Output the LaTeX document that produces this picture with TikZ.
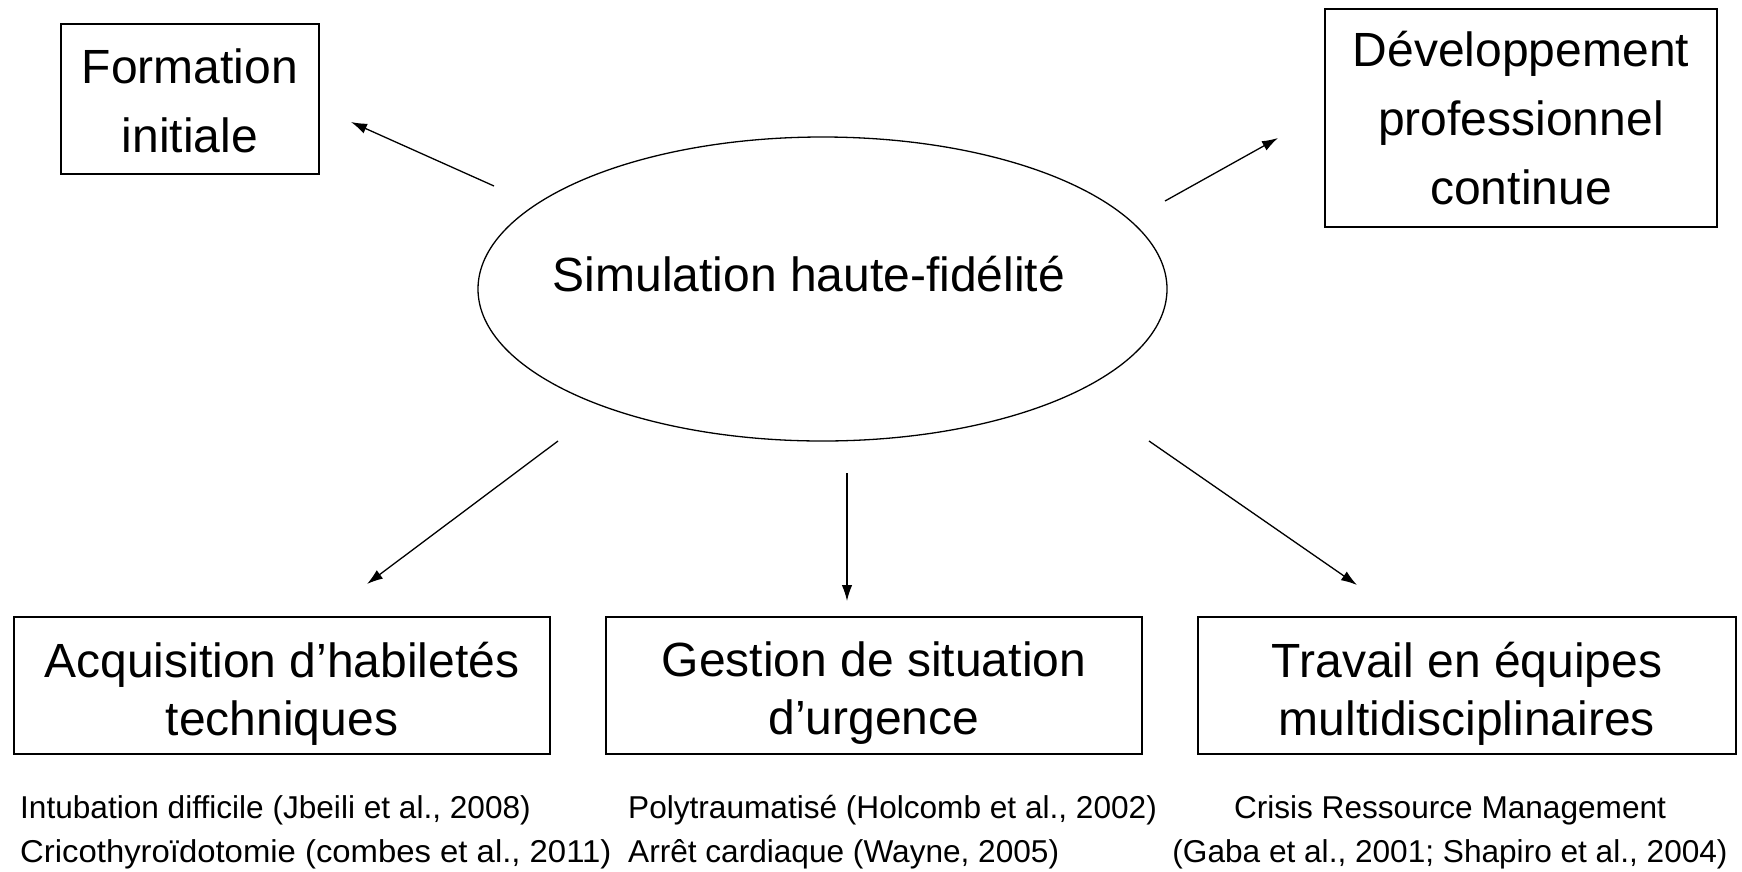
\documentclass[tikz,border=0pt]{standalone}
\usepackage{fontspec}
\setmainfont{Liberation Sans}
\usetikzlibrary{arrows.meta,shapes.geometric}

\begin{document}
\begin{tikzpicture}[x=1pt,y=-1pt,
  box/.style={draw, line width=1.3pt, inner sep=0pt, align=center},
  bigtxt/.style={font=\fontsize{48}{69}\selectfont},
  midtxt/.style={font=\fontsize{48}{58}\selectfont, align=center, inner sep=0pt},
  reftxt/.style={font=\fontsize{31.6}{44}\selectfont, inner sep=0pt},
  arr/.style={-{Latex[length=16pt,width=10.5pt]}, line width=1.3pt}]
\useasboundingbox (0,0) rectangle (1742,871);

% central ellipse and its label
\node[draw, ellipse, line width=1.3pt, minimum width=689pt, minimum height=304pt, inner sep=0pt] (sim) at (822.5,289) {};
\node[font=\fontsize{48}{58}\selectfont, inner sep=0pt] (simtxt) at (809,274) {Simulation haute-fidélité};

% upper boxes
\node[box, bigtxt, minimum width=258pt, minimum height=150pt] (form) at (190,99) {};
\node[bigtxt, align=center, inner sep=0pt] (formtxt) at ([yshift=-2pt]form.center) {Formation\\initiale};
\node[box, bigtxt, minimum width=392pt, minimum height=218pt] (dev) at (1521,118) {Développement\\professionnel\\continue};

% lower boxes
\node[box, minimum width=536pt, minimum height=137pt] (acq) at (282,685.5) {};
\node[box, minimum width=536pt, minimum height=137pt] (gest) at (874,685.5) {};
\node[box, minimum width=538pt, minimum height=137pt] (trav) at (1467,685.5) {};
\node[midtxt] (acqtxt) at ([yshift=-8pt]acq.center) {Acquisition d’habiletés\\techniques};
\node[midtxt] (gesttxt) at ([yshift=-8pt]gest.center) {Gestion de situation\\d’urgence};
\node[midtxt] (travtxt) at ([yshift=-8pt]trav.center) {Travail en équipes\\multidisciplinaires};

% references under the lower boxes
\node[reftxt, anchor=base west] (r1a) at (20,818) {Intubation difficile (Jbeili et al., 2008)};
\node[reftxt, anchor=base west] (r1b) at (20,862) {\scalebox{1.04}[1]{Cricothyroïdotomie (combes et al., 2011)}};
\node[reftxt, anchor=base west] (r2a) at (628,818) {Polytraumatisé (Holcomb et al., 2002)};
\node[reftxt, anchor=base west] (r2b) at (628,862) {Arrêt cardiaque (Wayne, 2005)};
\node[reftxt, anchor=base] (r3a) at (1450,818) {Crisis Ressource Management};
\node[reftxt, anchor=base] (r3b) at (1450,862) {(Gaba et al., 2001; Shapiro et al., 2004)};

% arrow end points around the ellipse
\coordinate (sF) at (494,186);  \coordinate (eF) at (351,122);
\coordinate (sD) at (1165,201); \coordinate (eD) at (1278,138);
\coordinate (sA) at (558,441);  \coordinate (eA) at (367,584);
\coordinate (sG) at (847,473);  \coordinate (eG) at (847,601);
\coordinate (sT) at (1149,441); \coordinate (eT) at (1357,585);

\draw[arr] (sF) -- (eF);
\draw[arr] (sD) -- (eD);
\draw[arr] (sA) -- (eA);
\draw[arr] (sG) -- (eG);
\draw[arr] (sT) -- (eT);
\end{tikzpicture}
\end{document}
